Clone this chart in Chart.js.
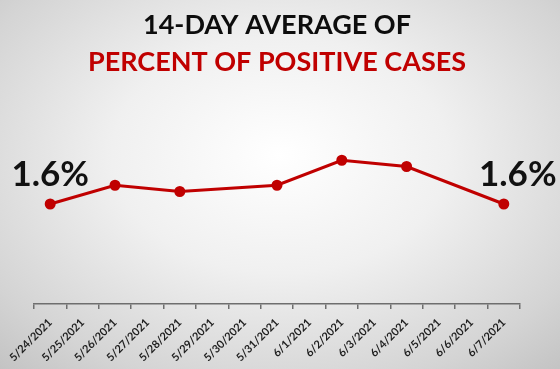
<!DOCTYPE html>
<html>
<head>
<meta charset="utf-8">
<script src="https://cdn.jsdelivr.net/npm/chart.js@4/dist/chart.umd.min.js"></script>
<style>
  html, body { margin: 0; padding: 0; }
  body {
    width: 560px; height: 369px; overflow: hidden;
    background: radial-gradient(ellipse 75% 80% at 50% 42%, #ffffff 0%, #f0f0f0 40%, #d4d4d4 80%, #c2c2c2 100%);
  }
  #wrap { width: 560px; height: 369px; position: relative; }
</style>
</head>
<body>
<div id="wrap"><canvas id="c" width="560" height="369"></canvas></div>
<script>
// ---- data ----
const categories = ['5/24/2021','5/25/2021','5/26/2021','5/27/2021','5/28/2021','5/29/2021','5/30/2021','5/31/2021','6/1/2021','6/2/2021','6/3/2021','6/4/2021','6/5/2021','6/6/2021','6/7/2021'];
const reportDates = ['5/24/2021','5/26/2021','5/28/2021','5/31/2021','6/2/2021','6/4/2021','6/7/2021'];
const positivity = [1.6, 1.9, 1.8, 1.9, 2.3, 2.2, 1.6];
const titleLine1 = '14-DAY AVERAGE OF';
const titleLine2 = 'PERCENT OF POSITIVE CASES';

const seriesData = categories.map(c => {
  const i = reportDates.indexOf(c);
  return i >= 0 ? positivity[i] : null;
});

const endLabels = {
  id: 'endLabels',
  afterDatasetsDraw(chart) {
    const meta = chart.getDatasetMeta(0);
    const data = chart.data.datasets[0].data;
    const idx = data.map((v, i) => v == null ? -1 : i).filter(i => i >= 0);
    const first = idx[0], last = idx[idx.length - 1];
    const ctx = chart.ctx;
    ctx.save();
    ctx.font = 'bold 35px Lato';
    ctx.fillStyle = '#111111';
    ctx.textAlign = 'center';
    ctx.textBaseline = 'alphabetic';
    const p0 = meta.data[first];
    ctx.fillText(data[first].toFixed(1) + '%', p0.x, p0.y - 18);
    const p1 = meta.data[last];
    ctx.fillText(data[last].toFixed(1) + '%', p1.x + 14, p1.y - 18);
    ctx.restore();
  }
};

new Chart(document.getElementById('c'), {
  type: 'line',
  data: {
    labels: categories,
    datasets: [{
      data: seriesData,
      spanGaps: true,
      borderColor: '#c00000',
      backgroundColor: '#c00000',
      borderWidth: 3,
      pointRadius: 4,
      pointBackgroundColor: '#c00000',
      pointBorderColor: '#c00000',
      tension: 0
    }]
  },
  options: {
    responsive: false,
    animation: false,
    layout: { padding: { left: 34, right: 40, top: 0, bottom: 0 } },
    plugins: {
      legend: { display: false },
      tooltip: { enabled: false },
      title: {
        display: true,
        text: titleLine1,
        color: '#0d0d0d',
        font: { family: 'Lato', size: 27, weight: 'bold' },
        padding: { top: 9, bottom: 5 }
      },
      subtitle: {
        display: true,
        text: titleLine2,
        color: '#c00000',
        font: { family: 'Lato', size: 27, weight: 'bold' },
        padding: { top: 0, bottom: 25.2 }
      }
    },
    scales: {
      x: {
        offset: true,
        afterFit(scale) { scale.height = 65; },
        grid: { display: true, drawOnChartArea: false, drawTicks: true, offset: true, tickLength: 5, color: '#6e6e6e', lineWidth: 1.5 },
        border: { display: true, color: '#6e6e6e', width: 1.5 },
        ticks: {
          autoSkip: false,
          minRotation: 45, maxRotation: 45,
          color: '#1f1f1f',
          padding: 7,
          font: { family: 'Lato', size: 11, weight: 'bold' }
        }
      },
      y: {
        display: false,
        min: 0,
        max: 3.2
      }
    }
  },
  plugins: [endLabels]
});
</script>
</body>
</html>
